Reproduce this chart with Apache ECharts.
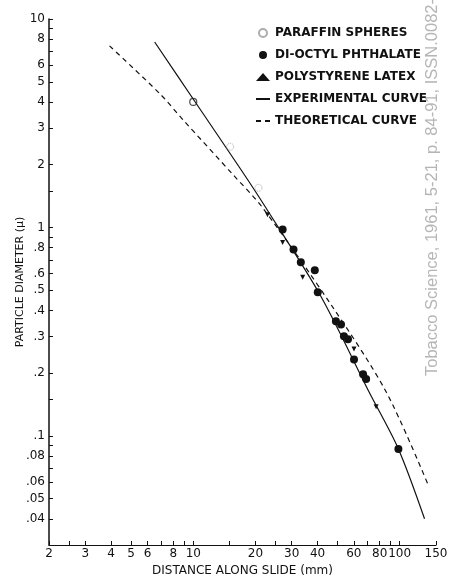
<html>
<head>
<meta charset="utf-8">
<title>Particle diameter vs distance along slide</title>
<script src="https://cdn.jsdelivr.net/npm/echarts@6/dist/echarts.min.js"></script>
<style>
    body{ margin:0; background:#fff; }
    #chart{ width:450px; height:575px; }
</style>
</head>
<body>
<div id="chart"></div>
<script type="text/javascript">
// distance along slide (mm), particle diameter (micron)
var paraffin = [[10, 4.0], [15.1, 2.44], [20.7, 1.55]];
var dop = [[27.1, 0.977], [30.6, 0.785], [33.2, 0.681], [38.8, 0.623], [40.1, 0.489],
           [49.1, 0.355], [52, 0.343], [53.7, 0.301], [56.2, 0.291], [60.1, 0.233],
           [66.5, 0.198], [68.8, 0.1875], [98.6, 0.0867]];
var latex = [[22.9, 1.15], [27.1, 0.847], [33.9, 0.577], [60.1, 0.261], [76.9, 0.138]];
var experimental = [[6.5, 7.76], [10.2, 4.01], [17.3, 1.85], [22.4, 1.25], [41.5, 0.468],
                    [71.1, 0.1625], [98.6, 0.0867], [132, 0.0401]];
var theoretical = [[3.93, 7.43], [6.89, 4.38], [8.91, 3.29], [15.6, 1.79], [21.6, 1.25],
                   [46.4, 0.428], [86.1, 0.1625], [138, 0.0577]];

var xLabels = [2, 3, 4, 5, 6, 8, 10, 20, 30, 40, 60, 80, 100, 150];
var xTicks = [2, 2.5, 3, 4, 5, 6, 7, 8, 9, 10, 15, 20, 25, 30, 40, 50, 60, 70, 80, 90, 100, 150];
var yLabels = [10, 8, 6, 5, 4, 3, 2, 1, 0.8, 0.6, 0.5, 0.4, 0.3, 0.2, 0.1, 0.08, 0.06, 0.05, 0.04];
var yTicks = [10, 9, 8, 7, 6, 5, 4, 3, 2, 1.5, 1, 0.9, 0.8, 0.7, 0.6, 0.5, 0.4, 0.3, 0.2, 0.15,
              0.1, 0.09, 0.08, 0.07, 0.06, 0.05, 0.04];

var ink = '#111';
var font = 'DejaVu Sans';

// the open circle at 10 mm is drawn heavier than the other paraffin marks
var paraffinData = paraffin.map(function (p, i) {
  return i === 0
    ? { value: p, itemStyle: { borderColor: '#222', borderType: 'solid', borderWidth: 1.2 } }
    : p;
});

var myChart = echarts.init(document.getElementById('chart'));
var option = {
  animation: false,
  backgroundColor: '#fff',
  textStyle: { fontFamily: font },
  grid: { left: 49, right: 14, top: 19, bottom: 30, outerBoundsMode: 'none' },
  legend: {
    orient: 'vertical',
    left: 250, top: 22,
    itemWidth: 14, itemHeight: 8, itemGap: 10,
    textStyle: { fontFamily: font, fontSize: 12, fontWeight: 'bold', color: ink },
    data: [
      { name: 'PARAFFIN SPHERES' },
      { name: 'DI-OCTYL PHTHALATE' },
      { name: 'POLYSTYRENE LATEX' },
      { name: 'EXPERIMENTAL CURVE', itemStyle: { opacity: 0 } },
      { name: 'THEORETICAL CURVE', itemStyle: { opacity: 0 } }
    ]
  },
  xAxis: {
    type: 'log', logBase: 10, min: 2, max: 150,
    name: 'DISTANCE ALONG SLIDE (mm)', nameLocation: 'middle', nameGap: 20,
    nameMoveOverlap: false,
    nameTextStyle: { fontFamily: font, fontSize: 12, color: ink },
    axisLine: { lineStyle: { color: ink, width: 1.2 } },
    axisTick: { inside: true, length: 4, customValues: xTicks, lineStyle: { color: ink } },
    axisLabel: { customValues: xLabels, color: ink, fontSize: 12, margin: 3,
      formatter: function (v) { return String(Number(Number(v).toPrecision(3))); } },
    splitLine: { show: false },
    minorTick: { show: false }
  },
  yAxis: {
    type: 'log', logBase: 10, min: 0.03, max: 10,
    name: 'PARTICLE DIAMETER (\u03bc)', nameLocation: 'middle', nameGap: 23,
    nameMoveOverlap: false,
    nameTextStyle: { fontFamily: font, fontSize: 11, color: ink },
    axisLine: { show: true, lineStyle: { color: ink, width: 1.5 } },
    axisTick: { show: true, inside: true, length: 4, customValues: yTicks, lineStyle: { color: ink } },
    axisLabel: { customValues: yLabels, color: ink, fontSize: 12, margin: 4,
      formatter: function (v) {
        var s = String(Number(Number(v).toPrecision(3)));
        return s.indexOf('0.') === 0 ? s.slice(1) : s;
      } },
    splitLine: { show: false },
    minorTick: { show: false }
  },
  series: [
    {
      name: 'EXPERIMENTAL CURVE', type: 'line', data: experimental,
      smooth: 0.3, symbol: 'none', z: 2, color: ink,
      lineStyle: { color: ink, width: 1.2 }
    },
    {
      name: 'THEORETICAL CURVE', type: 'line', data: theoretical,
      smooth: 0.3, symbol: 'none', z: 2, color: ink,
      lineStyle: { color: ink, width: 1.2, type: [5, 4] }
    },
    {
      name: 'PARAFFIN SPHERES', type: 'scatter', data: paraffinData,
      symbol: 'circle', symbolSize: 7, z: 3,
      itemStyle: { color: 'rgba(255,255,255,0)', borderColor: '#999', borderWidth: 1, borderType: 'dotted' }
    },
    {
      name: 'DI-OCTYL PHTHALATE', type: 'scatter', data: dop,
      symbol: 'circle', symbolSize: 8, z: 3,
      itemStyle: { color: ink, opacity: 1 }
    },
    {
      name: 'POLYSTYRENE LATEX', type: 'scatter', data: latex,
      symbol: 'triangle', symbolSize: 5, symbolRotate: 180, z: 3,
      itemStyle: { color: ink, opacity: 1 }
    }
  ],
  graphic: [
    {
      type: 'text', x: 432, y: 376, rotation: Math.PI / 2,
      style: {
        text: 'Tobacco Science, 1961, 5-21, p. 84-91, ISSN.0082-',
        fontFamily: 'Liberation Sans', fontSize: 16.5, fill: '#b5b5b5',
        align: 'left', verticalAlign: 'middle'
      }
    }
  ]
};
if (option && typeof option === 'object') {
    myChart.setOption(option);
}
</script>
</body>
</html>
